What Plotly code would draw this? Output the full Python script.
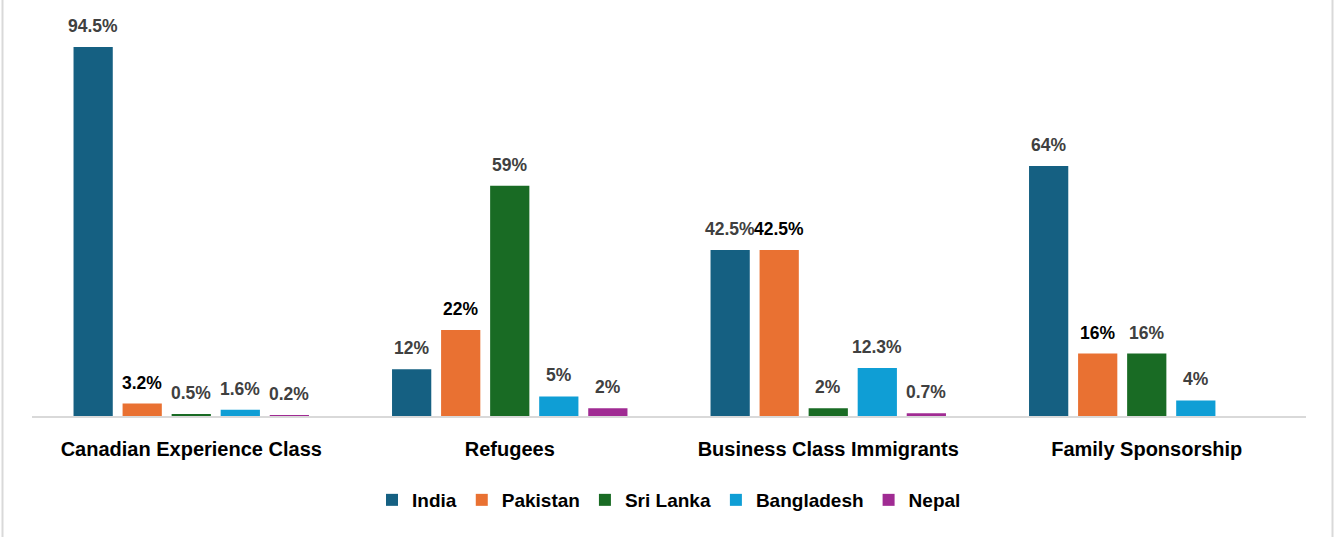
import plotly.graph_objects as go

categories = ["Canadian Experience Class", "Refugees", "Business Class Immigrants", "Family Sponsorship"]
series_names = ["India", "Pakistan", "Sri Lanka", "Bangladesh", "Nepal"]
india = [94.5, 12, 42.5, 64]
pakistan = [3.2, 22, 42.5, 16]
sri_lanka = [0.5, 59, 2, 16]
bangladesh = [1.6, 5, 12.3, 4]
nepal = [0.2, 2, 0.7, None]
labels_india = ["94.5%", "12%", "42.5%", "64%"]
labels_pakistan = ["3.2%", "22%", "42.5%", "16%"]
labels_sri_lanka = ["0.5%", "59%", "2%", "16%"]
labels_bangladesh = ["1.6%", "5%", "12.3%", "4%"]
labels_nepal = ["0.2%", "2%", "0.7%", None]

values = [india, pakistan, sri_lanka, bangladesh, nepal]
labels = [labels_india, labels_pakistan, labels_sri_lanka, labels_bangladesh, labels_nepal]
colors = ["#156082", "#E97132", "#196B24", "#0F9ED5", "#A02B93"]
label_colors = ["#404040", "#000000", "#404040", "#404040", "#404040"]

W, H = 1334, 539
ml, mr, mt, mb = 32, 28, 15, 123
bargap = 0.23
bargroupgap = 0.2
plot_w = W - ml - mr
plot_h = H - mt - mb
pitch = plot_w / len(categories) * (1 - bargap) / len(series_names)

FONT = "Liberation Sans"

fig = go.Figure()
annotations = []
for i, (name, vals, labs) in enumerate(zip(series_names, values, labels)):
    fig.add_trace(go.Bar(
        name=f"<b>{name}</b>", x=categories, y=vals,
        marker=dict(color=colors[i], line=dict(width=0)),
    ))
    for c, v, t in zip(categories, vals, labs):
        if v is None:
            continue
        annotations.append(dict(
            x=c, y=v, xref="x", yref="y", text=f"<b>{t}</b>", showarrow=False,
            yanchor="bottom", xanchor="center", yshift=9,
            xshift=(i - (len(series_names) - 1) / 2) * pitch,
            font=dict(family=FONT, size=17.5, color=label_colors[i]),
        ))

def px_to_paper_x(px):
    return (px - ml) / plot_w

def px_to_paper_y(py):
    return (H - mb - py) / plot_h

shapes = [
    dict(type="line", xref="paper", yref="paper",
         x0=px_to_paper_x(2.5), x1=px_to_paper_x(2.5),
         y0=px_to_paper_y(0), y1=px_to_paper_y(537),
         line=dict(color="#d9d9d9", width=2)),
    dict(type="line", xref="paper", yref="paper",
         x0=px_to_paper_x(1332.5), x1=px_to_paper_x(1332.5),
         y0=px_to_paper_y(0), y1=px_to_paper_y(537),
         line=dict(color="#d9d9d9", width=2)),
]

fig.update_layout(
    width=W, height=H,
    margin=dict(l=ml, r=mr, t=mt, b=mb),
    barmode="group", bargap=bargap, bargroupgap=bargroupgap,
    plot_bgcolor="white", paper_bgcolor="white",
    annotations=annotations, shapes=shapes,
    showlegend=True,
    legend=dict(orientation="h", x=0.5, xanchor="center",
                y=px_to_paper_y(500), yanchor="middle",
                font=dict(family=FONT, size=19, color="#000000"),
                itemwidth=30, traceorder="normal"),
    font=dict(family=FONT),
)
fig.update_xaxes(
    showline=True, linecolor="#d9d9d9", linewidth=2, ticks="",
    tickfont=dict(family=FONT, size=20, color="#000000"),
    tickprefix="<b>", ticksuffix="</b>",
    ticklabelstandoff=14,
)
fig.update_yaxes(range=[0, 102.7], showgrid=False, showticklabels=False, zeroline=False, showline=False)

fig.write_html("out.html", config={"displayModeBar": False},
               post_script="document.body.style.margin='0px';")
